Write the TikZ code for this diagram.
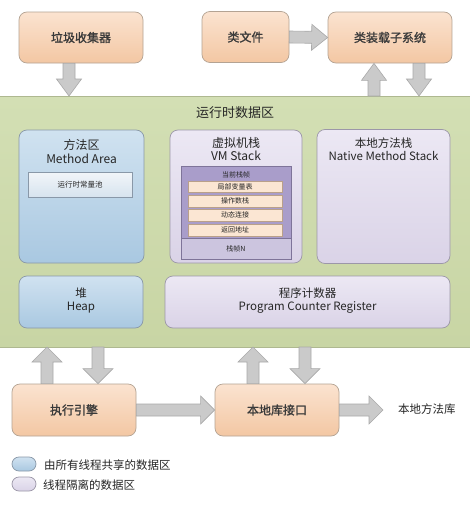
\documentclass[tikz,border=0pt]{standalone}
\usepackage{fontspec}
\setmainfont{Noto Sans CJK SC}
\newfontfamily\boldish[FakeBold=1.3]{Noto Sans CJK SC}
\usetikzlibrary{calc}
\definecolor{otop}{HTML}{FBE3D0}
\definecolor{obot}{HTML}{F3C7A3}
\definecolor{obord}{HTML}{B4A393}
\definecolor{btop}{HTML}{D0E2F0}
\definecolor{bbot}{HTML}{A9C8E1}
\definecolor{bbord}{HTML}{8998A8}
\definecolor{ptop}{HTML}{ECE8F4}
\definecolor{pbot}{HTML}{DAD3E7}
\definecolor{pbord}{HTML}{9C97A8}
\definecolor{gtop}{HTML}{D3DFB4}
\definecolor{gbot}{HTML}{C8D5A4}
\definecolor{gbord}{HTML}{AEB890}
\definecolor{afill}{HTML}{CACACA}
\definecolor{abord}{HTML}{A9A9A9}
\definecolor{txt}{HTML}{262626}
\definecolor{otxt}{HTML}{3A3A3A}
\definecolor{frame}{HTML}{A99DCA}
\definecolor{framebord}{HTML}{7E7499}
\definecolor{framelow}{HTML}{CCC5DF}
\definecolor{rowfill}{HTML}{FBE6D3}
\definecolor{rowbord}{HTML}{B9A08A}
\definecolor{ctop}{HTML}{F1F5F9}
\definecolor{cbot}{HTML}{D6E3EE}
\newcommand\fatarr[4]{%
  \path[fatarrow] let \p1=(#3), \p2=(#4),
    \n1={atan2(\y2-\y1,\x2-\x1)}, \n2={veclen(\x2-\x1,\y2-\y1)} in
    [shift={(\p1)}, rotate=\n1]
    (0pt,-6pt) -- ({\n2-#2pt},-6pt) -- ({\n2-#2pt},-#1pt) -- (\n2,0pt)
    -- ({\n2-#2pt},#1pt) -- ({\n2-#2pt},6pt) -- (0pt,6pt) -- cycle;}
\begin{document}
\begin{tikzpicture}[x=1pt,y=-1pt,
  every node/.style={text=txt},
  fatarrow/.style={fill=afill, draw=abord, line width=0.6pt, line join=miter},
  obox/.style={draw=obord, line width=0.7pt, rounded corners=8pt, top color=otop, bottom color=obot,
     font=\boldish\fontsize{12}{14}\selectfont, text=otxt, inner sep=0pt},
  bbox/.style={draw=bbord, line width=0.7pt, rounded corners=8pt, top color=btop, bottom color=bbot, inner sep=0pt},
  pbox/.style={draw=pbord, line width=0.7pt, rounded corners=8pt, top color=ptop, bottom color=pbot, inner sep=0pt},
  lbl/.style={align=center, font=\fontsize{11.5}{13}\selectfont, inner sep=0pt},
  small/.style={font=\fontsize{7}{8}\selectfont, inner sep=0pt},
  rowbox/.style={draw=rowbord, line width=0.4pt, fill=rowfill, minimum width=94, minimum height=11.5, inner sep=0pt,
     font=\fontsize{7}{8}\selectfont}
]
\useasboundingbox (0,0) rectangle (470,506);
\fill[white] (0,0) rectangle (470,506);

% runtime data area
\node[draw=gbord, line width=0.5pt, top color=gtop, bottom color=gbot, minimum width=472, minimum height=251,
  anchor=north west, inner sep=0pt] (rt) at (-1,96) {};
\node[font=\fontsize{13}{15}\selectfont, inner sep=0pt] (rttitle) at (235,113) {运行时数据区};

% top boxes
\node[obox, minimum width=124, minimum height=51] (gc) at (81,37.5) {垃圾收集器};
\node[obox, minimum width=87, minimum height=51] (cf) at (245.5,37) {类文件};
\node[obox, minimum width=124, minimum height=51] (cl) at (390,37.5) {类装载子系统};

% method area
\node[bbox, minimum width=125, minimum height=133] (ma) at (81.5,196.5) {};
\node[lbl, font=\fontsize{12}{13.5}\selectfont] (malbl) at (81.5,151.5) {方法区\\Method Area};
\node[draw=bbord, line width=0.5pt, top color=ctop, bottom color=cbot, minimum width=104, minimum height=25,
  inner sep=0pt, font=\fontsize{7.5}{9}\selectfont] (cp) at (80,185) {运行时常量池};

% VM stack
\node[pbox, minimum width=132, minimum height=133] (vm) at (236,196.5) {};
\node[lbl, font=\fontsize{12}{13.5}\selectfont] (vmlbl) at (236,149) {虚拟机栈\\VM Stack};
\node[draw=framebord, line width=0.5pt, fill=frame, minimum width=110, minimum height=93, inner sep=0pt] (fr) at (236,212.5) {};
\node[draw=framebord, line width=0.5pt, fill=framelow, minimum width=110, minimum height=21, inner sep=0pt,
  font=\fontsize{7}{8}\selectfont] (frn) at (236,248.5) {栈帧N};
\node[small] (cur) at (236,174.5) {当前栈帧};
\node[rowbox] (r1) at (235,186.5) {局部变量表};
\node[rowbox] (r2) at (235,201) {操作数栈};
\node[rowbox] (r3) at (235,215.3) {动态连接};
\node[rowbox] (r4) at (235,230) {返回地址};

% native method stack
\node[pbox, minimum width=133, minimum height=134] (nm) at (383.5,196.5) {};
\node[lbl] (nmlbl) at (383.5,149) {本地方法栈\\Native Method Stack};

% heap and pc
\node[bbox, minimum width=124, minimum height=52] (heap) at (81,302) {};
\node[lbl] (heaplbl) at (81,301) {堆\\Heap};
\node[pbox, minimum width=285, minimum height=52] (pc) at (307.5,302) {};
\node[lbl] (pclbl) at (307.5,301) {程序计数器\\Program Counter Register};

% bottom boxes
\node[obox, minimum width=124, minimum height=52] (ee) at (74,410) {执行引擎};
\node[obox, minimum width=124, minimum height=52] (nl) at (277,410) {本地库接口};
\node[font=\fontsize{11.5}{13}\selectfont, inner sep=0pt, anchor=west] (lib) at (398,409) {本地方法库};

% legend
\node[bbox, rounded corners=7pt, minimum width=24, minimum height=14] (lgb) at (24,464) {};
\node[font=\fontsize{11.5}{13}\selectfont, inner sep=0pt, anchor=west] (lgbt) at (44,465) {由所有线程共享的数据区};
\node[pbox, rounded corners=7pt, minimum width=24, minimum height=14] (lgp) at (24,484) {};
\node[font=\fontsize{11.5}{13}\selectfont, inner sep=0pt, anchor=west] (lgpt) at (43,485) {线程隔离的数据区};

% arrows
\coordinate (gcin) at (69,96);
\coordinate (clup) at (374,96);
\coordinate (cldn) at (419,96);
\coordinate (b1) at (47,347);
\coordinate (b2) at (98,347);
\coordinate (b3) at (253,347);
\coordinate (b4) at (305,347);
\coordinate (libtip) at (383,410);
\fatarr{12.5}{17}{gc.south -| gcin}{gcin}
\fatarr{13}{16}{cf.east}{cl.west}
\fatarr{12.5}{17}{clup}{cl.south -| clup}
\fatarr{12.5}{17}{cl.south -| cldn}{cldn}
\fatarr{15}{15}{ee.north -| b1}{b1}
\fatarr{15}{15}{b2}{ee.north -| b2}
\fatarr{15}{15}{nl.north -| b3}{b3}
\fatarr{15}{15}{b4}{nl.north -| b4}
\fatarr{14}{14}{ee.east}{nl.west}
\fatarr{14}{14}{nl.east}{libtip}
\end{tikzpicture}
\end{document}
